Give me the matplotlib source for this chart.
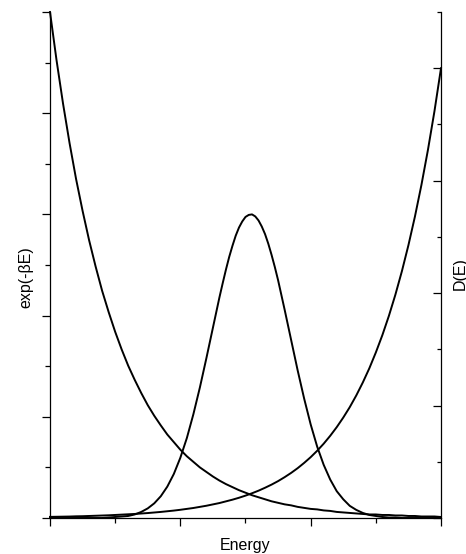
import matplotlib
matplotlib.use("Agg")
import matplotlib.pyplot as plt
from matplotlib.ticker import MultipleLocator, NullFormatter

# --- Data (energy in arbitrary units 0..3) ---
energy = [
    0.00, 0.05, 0.10, 0.15, 0.20, 0.25, 0.30, 0.35, 0.40, 0.45,
    0.50, 0.55, 0.60, 0.65, 0.70, 0.75, 0.80, 0.85, 0.90, 0.95,
    1.00, 1.05, 1.10, 1.15, 1.20, 1.25, 1.30, 1.35, 1.40, 1.45,
    1.50, 1.55, 1.60, 1.65, 1.70, 1.75, 1.80, 1.85, 1.90, 1.95,
    2.00, 2.05, 2.10, 2.15, 2.20, 2.25, 2.30, 2.35, 2.40, 2.45,
    2.50, 2.55, 2.60, 2.65, 2.70, 2.75, 2.80, 2.85, 2.90, 2.95,
    3.00,
]

# Boltzmann factor, left axis (0..1)
boltzmann = [
    1.000, 0.905, 0.819, 0.741, 0.670, 0.607, 0.549, 0.497, 0.449, 0.407,
    0.368, 0.333, 0.301, 0.273, 0.247, 0.223, 0.202, 0.183, 0.165, 0.150,
    0.135, 0.122, 0.111, 0.100, 0.091, 0.082, 0.074, 0.067, 0.061, 0.055,
    0.050, 0.045, 0.041, 0.037, 0.033, 0.030, 0.027, 0.025, 0.022, 0.020,
    0.018, 0.017, 0.015, 0.014, 0.012, 0.011, 0.010, 0.009, 0.008, 0.007,
    0.007, 0.006, 0.006, 0.005, 0.005, 0.004, 0.004, 0.003, 0.003, 0.003,
    0.002,
]

# density of states, right axis (0..4.5)
density = [
    0.010, 0.011, 0.012, 0.013, 0.015, 0.016, 0.018, 0.020, 0.022, 0.024,
    0.027, 0.030, 0.033, 0.036, 0.040, 0.044, 0.049, 0.054, 0.060, 0.066,
    0.073, 0.081, 0.089, 0.099, 0.109, 0.121, 0.133, 0.148, 0.163, 0.180,
    0.199, 0.220, 0.243, 0.269, 0.297, 0.328, 0.363, 0.401, 0.443, 0.490,
    0.541, 0.598, 0.661, 0.731, 0.808, 0.893, 0.986, 1.090, 1.205, 1.331,
    1.472, 1.626, 1.797, 1.986, 2.195, 2.426, 2.681, 2.963, 3.275, 3.619,
    4.000,
]

# product peak, left axis (0..1), sampled finer around the maximum
peak_energy = [
    0.00, 0.05, 0.10, 0.15, 0.20, 0.25, 0.30, 0.35, 0.40, 0.45,
    0.50, 0.55, 0.60, 0.65, 0.70, 0.75, 0.80, 0.85, 0.90, 0.95,
    1.00, 1.05, 1.10, 1.15, 1.20,
    1.225, 1.250, 1.275, 1.300, 1.325, 1.350, 1.375, 1.400, 1.425,
    1.450, 1.475, 1.500, 1.525, 1.550, 1.575, 1.600, 1.625, 1.650,
    1.675, 1.700, 1.725, 1.750, 1.775, 1.800, 1.825, 1.850, 1.875,
    1.90, 1.95, 2.00, 2.05, 2.10, 2.15, 2.20, 2.25, 2.30, 2.35,
    2.40, 2.45, 2.50, 2.55, 2.60, 2.65, 2.70, 2.75, 2.80, 2.85,
    2.90, 2.95, 3.00,
]
peak = [
    0.000, 0.000, 0.000, 0.000, 0.000, 0.000, 0.000, 0.000, 0.000, 0.001,
    0.002, 0.003, 0.004, 0.007, 0.012, 0.019, 0.029, 0.043, 0.062, 0.087,
    0.119, 0.158, 0.205, 0.258, 0.316,
    0.346, 0.376, 0.406, 0.436, 0.464, 0.491, 0.516, 0.538, 0.558,
    0.574, 0.586, 0.595, 0.599, 0.600, 0.596, 0.588, 0.576, 0.561,
    0.542, 0.520, 0.496, 0.470, 0.441, 0.412, 0.382, 0.352, 0.322,
    0.292, 0.236, 0.185, 0.141, 0.105, 0.076, 0.053, 0.037, 0.024, 0.016,
    0.010, 0.006, 0.004, 0.002, 0.001, 0.001, 0.000, 0.000, 0.000, 0.000,
    0.000, 0.000, 0.000,
]

plt.rcParams["font.family"] = ["Liberation Sans", "DejaVu Sans"]

fig = plt.figure(figsize=(4.66, 5.54), dpi=100, facecolor="white")
ax = fig.add_axes([50 / 466, 36 / 554, 391 / 466, 506 / 554])
ax2 = ax.twinx()

LW = 1.4
ax.plot(energy, boltzmann, color="black", lw=LW, clip_on=False, zorder=3)
ax.plot(peak_energy, peak, color="black", lw=LW, clip_on=False, zorder=3)
ax2.plot(energy, density, color="black", lw=LW, clip_on=False, zorder=3)

ax.set_xlim(0, 3)
ax.set_ylim(0, 1)
ax2.set_ylim(0, 4.5)

ax.xaxis.set_major_locator(MultipleLocator(1))
ax.xaxis.set_minor_locator(MultipleLocator(0.5))
ax.yaxis.set_major_locator(MultipleLocator(0.2))
ax.yaxis.set_minor_locator(MultipleLocator(0.1))
ax2.yaxis.set_major_locator(MultipleLocator(1))
ax2.yaxis.set_minor_locator(MultipleLocator(0.5))

for a in (ax, ax2):
    a.xaxis.set_major_formatter(NullFormatter())
    a.yaxis.set_major_formatter(NullFormatter())
    a.spines["top"].set_visible(False)
    for s in a.spines.values():
        s.set_linewidth(0.9)

ax.spines["right"].set_visible(False)
ax2.spines["left"].set_visible(False)
ax2.spines["bottom"].set_visible(False)

ax.tick_params(axis="both", which="major", direction="out", length=5.8, width=0.9)
ax.tick_params(axis="both", which="minor", direction="out", length=3.8, width=0.9)
ax2.tick_params(axis="y", which="major", direction="in", length=5.6, width=0.9)
ax2.tick_params(axis="y", which="minor", direction="in", length=2.8, width=0.9)

ax.set_xlabel("Energy", fontsize=11.5, labelpad=5)
ax.set_ylabel("exp(-βE)", fontsize=11.5)
ax.yaxis.set_label_coords(-0.043, 0.476)
ax2.set_ylabel("D(E)", fontsize=11.5, rotation=90)
ax2.yaxis.set_label_coords(1.029, 0.484)

fig.savefig("out.png", dpi=100, facecolor="white")
